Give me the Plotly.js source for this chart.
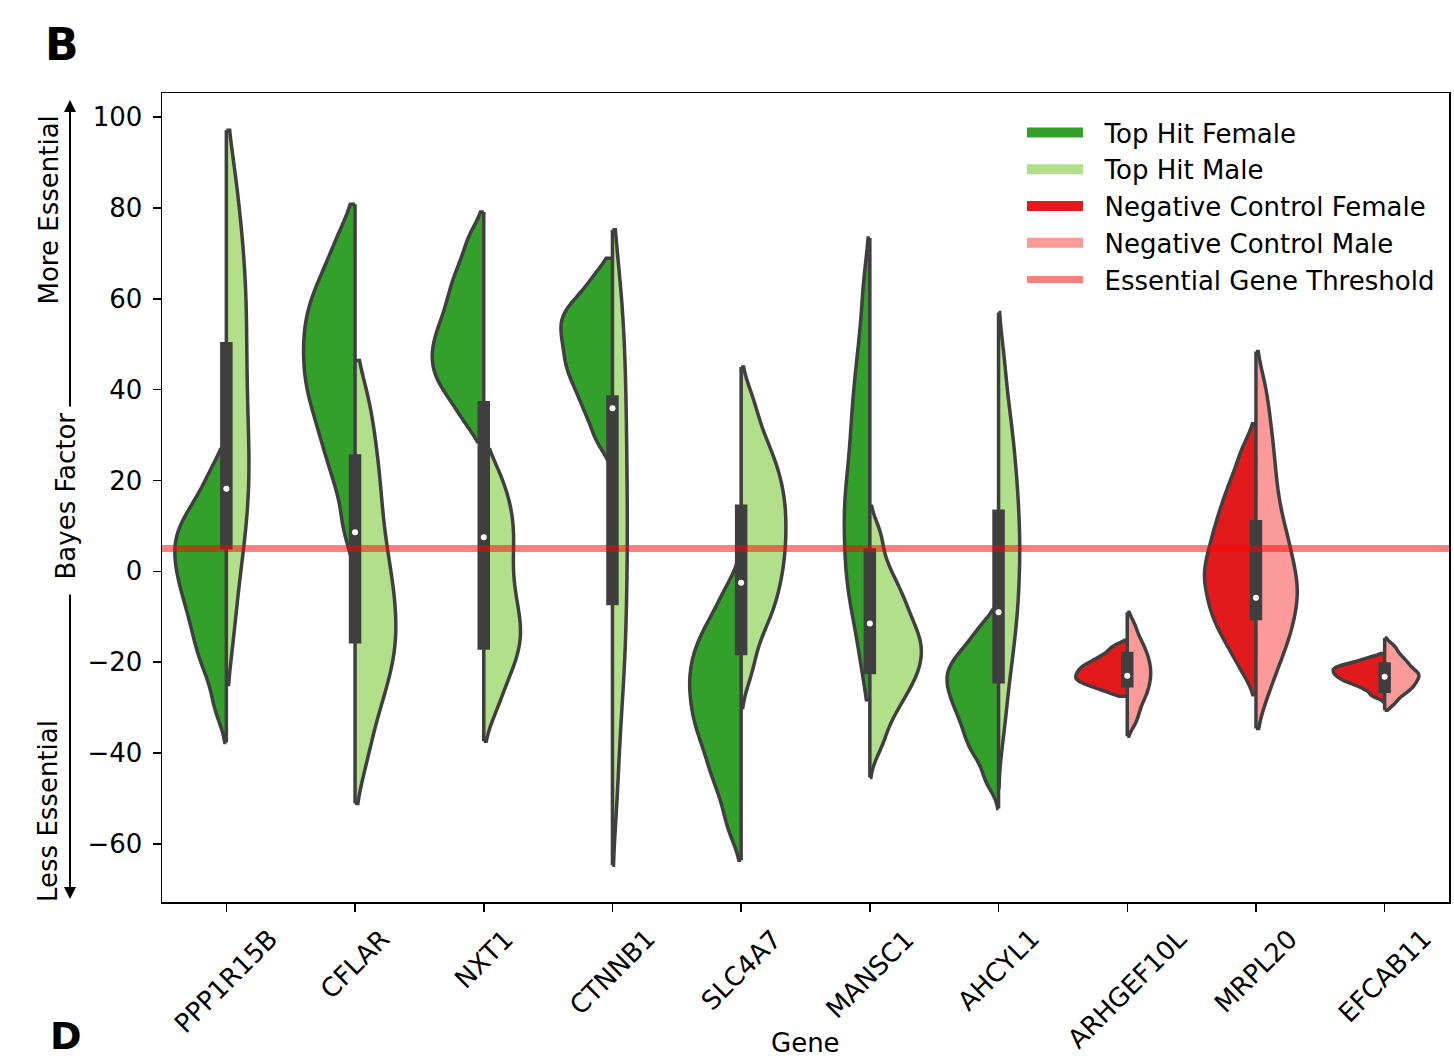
<!DOCTYPE html>
<html>
<head>
<meta charset="utf-8">
<script src="https://cdn.plot.ly/plotly-3.0.1.min.js"></script>
<style>
html,body{margin:0;padding:0;background:#fff;}
#chart{width:1454px;height:1060px;}
</style>
</head>
<body>
<div id="chart"></div>
<script>
// ---------------- data ----------------
const GENES = ['PPP1R15B','CFLAR','NXT1','CTNNB1','SLC4A7','MANSC1','AHCYL1','ARHGEF10L','MRPL20','EFCAB11'];
const GENE_GROUP = ['Top Hit','Top Hit','Top Hit','Top Hit','Top Hit','Top Hit','Top Hit',
                    'Negative Control','Negative Control','Negative Control'];

// Bayes factor samples per gene, female cell lines
const F_PPP1R15B = [22.3,17.5,14.2,11.8,9.8,7.9,6.1,4.4,2.5,0.6,-1.3,-3.3,-5.4,-7.8,-10.2,-12.9,-16.0,-19.0,-23.0,-29.8];
const F_CFLAR = [74.3,68.5,64.6,61.5,58.8,56.3,53.9,51.7,49.2,46.9,44.6,42.2,39.8,37.3,34.5,31.2,27.9,23.7,18.6,9.8];
const F_NXT1 = [73.8,68.9,65.4,62.6,60.1,57.6,55.4,53.4,51.5,49.8,48.1,46.4,44.7,43.0,41.2,39.0,36.4,32.4];
const F_CTNNB1 = [65.4,61.7,59.2,57.6,56.0,54.5,53.0,51.3,49.8,48.0,46.2,44.7,42.8,40.8,38.5,35.9,32.8,28.5];
const F_SLC4A7 = [-4.0,-8.9,-12.1,-14.6,-16.9,-18.8,-21.0,-22.9,-24.7,-26.7,-28.6,-30.7,-32.8,-34.8,-37.1,-39.8,-43.0,-45.8,-50.3,-56.4];
const F_MANSC1 = [63.5,53.1,46.0,40.8,36.0,31.7,28.0,23.4,19.9,16.7,13.9,11.3,7.6,4.7,1.6,-1.9,-4.7,-8.7,-13.8,-21.7];
const F_AHCYL1 = [-11.8,-15.1,-17.3,-19.1,-20.6,-22.0,-23.2,-24.7,-26.0,-27.5,-29.0,-30.6,-32.4,-34.3,-36.5,-38.6,-41.3,-46.0];
const F_ARHGEF10L = [-16.6,-18.0,-19.0,-19.8,-20.4,-21.0,-21.5,-22.0,-22.5,-23.0,-23.5,-23.9,-24.4,-25.0,-25.6,-26.7];
const F_MRPL20 = [26.8,21.5,17.9,15.1,12.3,10.0,7.9,5.7,3.7,1.8,0.0,-1.6,-3.2,-5.4,-7.2,-9.3,-11.3,-13.7,-16.6,-21.1];
const F_EFCAB11 = [-19.1,-20.0,-20.5,-21.0,-21.3,-21.6,-22.1,-22.4,-22.8,-23.2,-23.6,-24.1,-24.5,-25.2,-26.0,-27.3];

// Bayes factor samples per gene, male cell lines
const M_PPP1R15B = [88.2,79.5,72.9,67.6,62.5,57.8,53.1,48.3,43.5,38.8,34.2,29.7,25.5,21.4,17.4,13.1,8.5,3.3,-3.7,-14.1];
const M_CFLAR = [38.8,31.5,25.6,20.5,16.1,11.2,7.2,3.3,-0.4,-3.5,-6.3,-9.6,-12.4,-15.2,-18.0,-21.0,-24.4,-28.4,-33.4,-41.5];
const M_NXT1 = [22.3,17.6,14.3,11.2,8.3,5.4,2.4,-0.9,-3.9,-6.7,-9.4,-11.8,-13.9,-16.3,-18.7,-21.4,-24.9,-30.2];
const M_CTNNB1 = [66.6,58.1,51.8,45.8,40.3,34.9,29.7,24.4,19.3,14.3,9.4,4.7,-0.5,-5.5,-10.7,-16.4,-21.7,-28.2,-37.3,-49.8];
const M_SLC4A7 = [37.4,31.0,27.0,23.9,21.4,18.7,16.4,14.3,11.9,9.7,7.5,5.1,3.0,0.6,-1.8,-4.6,-7.0,-10.3,-14.1,-21.4];
const M_MANSC1 = [8.0,1.9,-2.0,-4.6,-6.9,-9.0,-11.0,-12.8,-14.4,-15.9,-17.2,-18.9,-20.3,-21.9,-23.5,-25.3,-27.3,-29.8,-32.9,-38.0];
const M_AHCYL1 = [46.5,37.3,32.0,27.5,23.5,19.9,16.6,13.2,10.1,7.1,4.2,1.1,-2.0,-5.2,-8.4,-11.8,-15.6,-20.1,-25.5,-34.0];
const M_ARHGEF10L = [-11.7,-14.4,-16.2,-17.5,-18.8,-19.9,-21.0,-22.0,-23.1,-24.1,-25.2,-26.4,-27.6,-29.1,-31.1,-33.4];
const M_MRPL20 = [40.1,32.6,27.0,22.0,17.5,13.2,9.5,6.7,4.4,1.2,-1.1,-3.2,-5.1,-6.7,-9.8,-12.0,-14.5,-17.3,-20.9,-26.7];
const M_EFCAB11 = [-16.5,-18.1,-19.3,-20.1,-20.9,-21.7,-22.3,-22.8,-23.2,-23.9,-24.5,-25.1,-25.8,-26.5,-27.5,-29.1];

// observed data range (min, max) of each half-violin
const F_MIN = [-37.7, 2.0, 28.5, 24.6, -63.6, -28.3, -52.2, -27.5, -27.2, -28.9];
const F_MAX = [26.8, 80.8, 79.1, 68.9, 1.8, 73.4, -8.4, -15.2, 32.5, -18.1];
const M_MIN = [-24.9, -51.1, -37.4, -64.7, -30.0, -45.4, -47.6, -36.3, -34.6, -30.6];
const M_MAX = [97.1, 46.4, 26.8, 75.2, 45.0, 14.3, 57.0, -9.0, 48.4, -14.7];

// inner box (all cell lines of a gene): quartiles and median
const BOX_Q1 = [5.2, -15.5, -16.9, -7.1, -18.1, -22.3, -24.3, -25.2, -10.4, -26.4];
const BOX_MEDIAN = [18.2, 8.6, 7.5, 35.9, -2.5, -11.5, -9.0, -23.0, -5.8, -23.2];
const BOX_Q3 = [50.1, 25.4, 37.1, 38.4, 14.3, 4.7, 13.2, -18.1, 10.9, -20.4];

const THRESHOLD = 5;
const SEXES = ['Female', 'Male'];
const LEGEND_NAMES = ['Top Hit Female', 'Top Hit Male', 'Negative Control Female', 'Negative Control Male'];
const THRESHOLD_NAME = 'Essential Gene Threshold';

// ---------------- build ----------------
const FEMALE = [F_PPP1R15B,F_CFLAR,F_NXT1,F_CTNNB1,F_SLC4A7,F_MANSC1,F_AHCYL1,F_ARHGEF10L,F_MRPL20,F_EFCAB11];
const MALE = [M_PPP1R15B,M_CFLAR,M_NXT1,M_CTNNB1,M_SLC4A7,M_MANSC1,M_AHCYL1,M_ARHGEF10L,M_MRPL20,M_EFCAB11];

const COLORS = {
  'Top Hit Female': '#33a02c',
  'Top Hit Male': '#b2df8a',
  'Negative Control Female': '#e31a1c',
  'Negative Control Male': '#fb9a99'
};
const EDGE = '#3f3f3f';
const FONT = 'DejaVu Sans, Verdana, sans-serif';
const PAD = '\u00a0\u00a0';

function std(a){
  const m = a.reduce((s,v)=>s+v,0)/a.length;
  return Math.sqrt(a.reduce((s,v)=>s+(v-m)*(v-m),0)/(a.length-1));
}
const BW_FACTOR = 0.3;

const traces = [];
GENES.forEach((g, i) => {
  [FEMALE[i], MALE[i]].forEach((vals, k) => {
    const name = GENE_GROUP[i] + ' ' + SEXES[k];
    const lo = k === 0 ? F_MIN[i] : M_MIN[i];
    const hi = k === 0 ? F_MAX[i] : M_MAX[i];
    traces.push({
      type: 'violin',
      name: name,
      legendgroup: name,
      x: vals.map(() => g),
      y: vals,
      side: k === 0 ? 'negative' : 'positive',
      scalegroup: g,
      scalemode: 'width',
      spanmode: 'manual',
      span: [lo, hi],
      bandwidth: BW_FACTOR * std(vals),
      points: false,
      box: {visible: false},
      meanline: {visible: false},
      fillcolor: COLORS[name],
      line: {color: EDGE, width: 3.5},
      opacity: 1,
      showlegend: false,
      hoverinfo: 'y+name'
    });
  });
});

// legend keys (patch style) for the four violin groups
LEGEND_NAMES.forEach((name, r) => {
  traces.push({
    type: 'scatter', mode: 'lines', name: PAD + name, legendgroup: name,
    x: [null], y: [null],
    line: {color: COLORS[name], width: 20},
    showlegend: true, legendrank: r + 1, hoverinfo: 'skip'
  });
});

// inner box from all samples of each gene
const lowerF = GENES.map((g,i) => Math.min(F_MIN[i], M_MIN[i]));
const upperF = GENES.map((g,i) => Math.max(F_MAX[i], M_MAX[i]));
traces.push({
  type: 'box',
  x: GENES,
  q1: BOX_Q1, median: BOX_MEDIAN, q3: BOX_Q3,
  lowerfence: lowerF, upperfence: upperF,
  width: 0.07,
  whiskerwidth: 0,
  boxpoints: false,
  fillcolor: EDGE,
  line: {color: EDGE, width: 3.5},
  showlegend: false,
  hoverinfo: 'skip'
});
traces.push({
  type: 'scatter',
  mode: 'markers',
  x: GENES,
  y: BOX_MEDIAN,
  marker: {color: 'white', size: 6, line: {width: 0}},
  showlegend: false,
  hoverinfo: 'y'
});

const pxX = px => (px - 162) / 1287;
const pxY = py => (902 - py) / 809;

const annotations = GENES.map(g => ({
  x: g, xref: 'x', y: pxY(921), yref: 'paper',
  text: g, textangle: -45, xanchor: 'center', yanchor: 'top',
  showarrow: false, font: {family: FONT, size: 26, color: '#000'}
}));
annotations.push(
  {x: 0.5, xref: 'paper', y: pxY(1043), yref: 'paper', text: 'Gene', showarrow: false,
   xanchor: 'center', yanchor: 'middle', font: {family: FONT, size: 26, color: '#000'}},
  {x: pxX(66), xref: 'paper', y: pxY(496.5), yref: 'paper', text: 'Bayes Factor', textangle: -90,
   showarrow: false, xanchor: 'center', yanchor: 'middle', font: {family: FONT, size: 26, color: '#000'}},
  {x: pxX(48), xref: 'paper', y: pxY(210.5), yref: 'paper', text: 'More Essential', textangle: -90,
   showarrow: false, xanchor: 'center', yanchor: 'middle', font: {family: FONT, size: 26, color: '#000'}},
  {x: pxX(48), xref: 'paper', y: pxY(811), yref: 'paper', text: 'Less Essential', textangle: -90,
   showarrow: false, xanchor: 'center', yanchor: 'middle', font: {family: FONT, size: 26, color: '#000'}},
  {x: pxX(70), xref: 'paper', y: pxY(100), yref: 'paper', text: '', showarrow: true,
   ax: 0, ay: 308, arrowhead: 2, arrowsize: 1.2, arrowwidth: 2, arrowcolor: '#000', standoff: 0},
  {x: pxX(70), xref: 'paper', y: pxY(899), yref: 'paper', text: '', showarrow: true,
   ax: 0, ay: -306, arrowhead: 2, arrowsize: 1.2, arrowwidth: 2, arrowcolor: '#000', standoff: 0},
  {x: pxX(62), xref: 'paper', y: pxY(45), yref: 'paper', text: '<b>B</b>', showarrow: false,
   xanchor: 'center', yanchor: 'middle', font: {family: FONT, size: 44, color: '#000'}},
  {x: pxX(66), xref: 'paper', y: pxY(1036), yref: 'paper', text: '<b>D</b>', showarrow: false,
   xanchor: 'center', yanchor: 'middle', font: {family: FONT, size: 38, color: '#000'}}
);

const layout = {
  width: 1454, height: 1060,
  margin: {l: 162, r: 5, t: 93, b: 158},
  paper_bgcolor: '#fff', plot_bgcolor: '#fff',
  font: {family: FONT, size: 26, color: '#000'},
  violinmode: 'overlay', violingap: 0.2, violingroupgap: 0,
  boxmode: 'overlay',
  showlegend: true,
  legend: {
    x: pxX(1022), xanchor: 'left', y: pxY(109), yanchor: 'top',
    bgcolor: 'rgba(0,0,0,0)', borderwidth: 0,
    itemwidth: 56,
    font: {family: FONT, size: 26, color: '#000'},
    tracegroupgap: 0, traceorder: 'normal'
  },
  xaxis: {
    type: 'category', categoryorder: 'array', categoryarray: GENES,
    range: [-0.5, GENES.length - 0.5],
    showticklabels: false, ticks: 'outside', ticklen: 8, tickwidth: 1.5, tickcolor: '#000',
    showline: true, linecolor: '#000', linewidth: 1.5, mirror: true,
    showgrid: false, zeroline: false, fixedrange: true
  },
  yaxis: {
    range: [-72.8, 105.3], tick0: 0, dtick: 20,
    ticks: 'outside', ticklen: 8, tickwidth: 1.5, tickcolor: '#000',
    ticklabelstandoff: 5,
    tickfont: {family: FONT, size: 26, color: '#000'},
    showline: true, linecolor: '#000', linewidth: 1.5, mirror: true,
    showgrid: false, zeroline: false, fixedrange: true
  },
  shapes: [{
    type: 'line', xref: 'paper', x0: 0, x1: 1, yref: 'y', y0: THRESHOLD, y1: THRESHOLD,
    line: {color: 'rgba(255,0,0,0.5)', width: 7}, layer: 'above',
    showlegend: true, name: PAD + THRESHOLD_NAME, legendrank: 5
  }],
  annotations: annotations
};

Plotly.newPlot('chart', traces, layout, {displayModeBar: false, staticPlot: true});
</script>
</body>
</html>
